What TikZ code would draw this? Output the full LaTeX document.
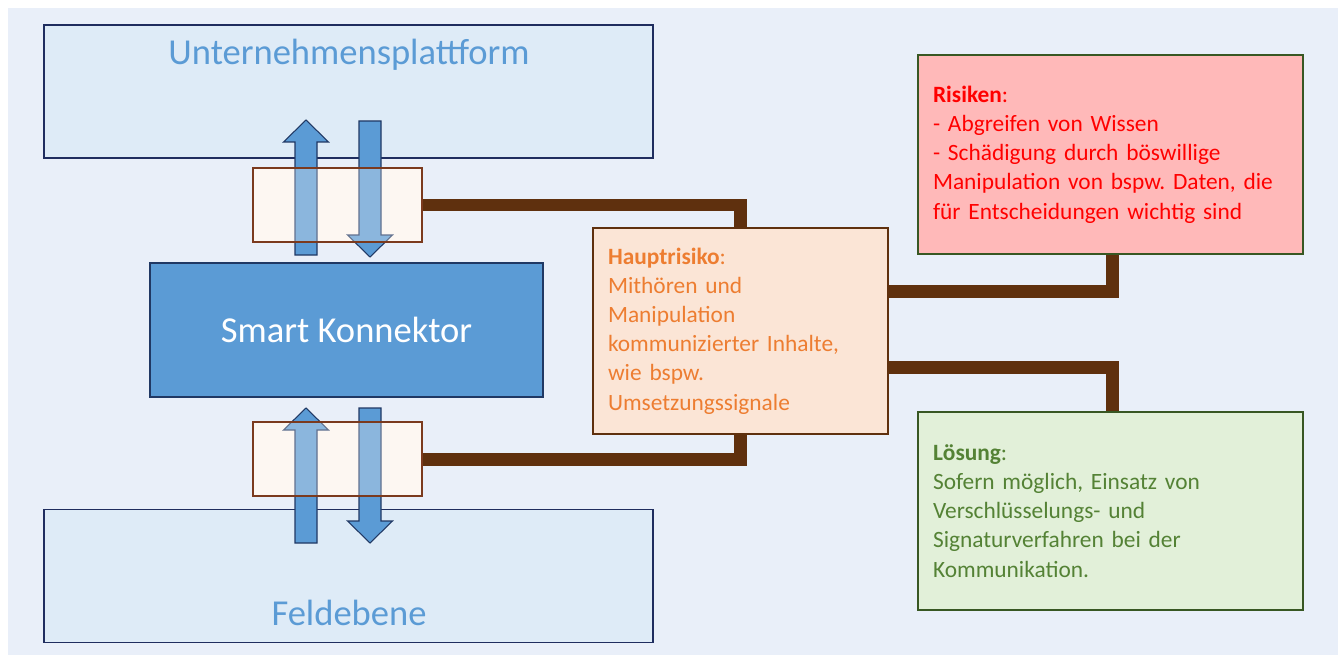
\documentclass[tikz,border=0pt]{standalone}
\usepackage{fontspec}
\setmainfont{Carlito}
\usepackage{tikz}
\usetikzlibrary{positioning}
\frenchspacing

\definecolor{hintergrund}{HTML}{E9EFF9}
\definecolor{ebenenfuell}{HTML}{DEEBF7}
\definecolor{dunkelblau}{HTML}{1F2D5F}
\definecolor{konnblau}{HTML}{5B9BD5}
\definecolor{pfeilrand}{HTML}{203864}
\definecolor{sahne}{HTML}{FDF7F2}
\definecolor{braun}{HTML}{5F300E}
\definecolor{rotbraun}{HTML}{7B3A1E}
\definecolor{pfirsich}{HTML}{FBE5D6}
\definecolor{orange}{HTML}{ED7D31}
\definecolor{rosa}{HTML}{FFB9B9}
\definecolor{signalrot}{HTML}{FF0000}
\definecolor{hellgruen}{HTML}{E2F0D9}
\definecolor{dunkelgruen}{HTML}{385723}
\definecolor{gruen}{HTML}{548235}

\begin{document}
\begin{tikzpicture}[x=0.02cm,y=-0.02cm,
		ebene/.style={draw=dunkelblau,line width=0.9pt,fill=ebenenfuell,minimum width=12.18cm,minimum height=2.66cm},
		titel/.style={font=\fontsize{20.8}{24}\selectfont,inner sep=0pt},
		stecker/.style={minimum width=3.38cm,minimum height=1.48cm,inner sep=0pt},
		pfeil/.style={draw=pfeilrand,line width=0.6pt,fill=konnblau,line join=miter},
		infobox/.style={line width=1pt,inner xsep=0.3cm,align=left,font=\fontsize{13.3}{16.6}\selectfont},
		leitung/.style={draw=braun,line width=0.26cm,line join=miter}]
	\useasboundingbox (0,0) rectangle (1338,655);
	\fill[hintergrund] (8,8) rectangle (1338,655);

	\node[ebene] (plattform) at (348.5,91.5) {};
	\node[titel,text=konnblau] (plattformtext) at (349,55) {Unternehmensplattform};
	\node[ebene] (feld) at (348.5,576) {};
	\node[titel,text=konnblau] (feldtext) at (349,613) {Feldebene};

	\node[draw=pfeilrand,line width=0.9pt,fill=konnblau,minimum width=7.86cm,minimum height=2.68cm,
		titel,text=white] (konnektor) at (346.5,330) {Smart Konnektor};

	\node[stecker,fill=sahne] (oben) at (337.5,205) {};
	\node[stecker,fill=sahne] (unten) at (337.5,459) {};

	% Pfeile nach oben und unten
	\foreach \x/\von/\bis/\s in {306/255/120/1, 370/121/257/-1, 306/543/408/1, 370/408/543/-1}
		\draw[pfeil] (\x-11,\von) -- (\x-11,\bis+22*\s) -- (\x-22.5,\bis+22*\s) -- (\x,\bis)
			-- (\x+22.5,\bis+22*\s) -- (\x+11,\bis+22*\s) -- (\x+11,\von) -- cycle;

	\node[stecker,draw=rotbraun,line width=0.6pt,fill=sahne,fill opacity=0.3] (obenglas) at (oben) {};
	\node[stecker,draw=rotbraun,line width=0.6pt,fill=sahne,fill opacity=0.3] (untenglas) at (unten) {};

	\node[infobox,draw=braun,fill=pfirsich,text=orange,text width=5.3cm,minimum height=4.12cm] (haupt) at (740.5,331)
		{\textbf{Hauptrisiko}:\\Mithören und\\Manipulation\\kommunizierter Inhalte,\\wie bspw.\\Umsetzungssignale};
	\node[infobox,draw=dunkelgruen,fill=rosa,text=signalrot,text width=7.1cm,minimum height=3.98cm] (risiken) at (1110.5,154.5)
		{\textbf{Risiken}:\\- Abgreifen von Wissen\\- Schädigung durch böswillige\\Manipulation von bspw. Daten, die\\für Entscheidungen wichtig sind};
	\node[infobox,draw=dunkelgruen,fill=hellgruen,text=gruen,text width=7.1cm,minimum height=3.96cm] (loesung) at (1110.5,511)
		{\textbf{Lösung}:\\Sofern möglich, Einsatz von\\Verschlüsselungs- und\\Signaturverfahren bei der\\Kommunikation.};

	\draw[leitung] (obenglas.east) -| (haupt.north);
	\draw[leitung] (untenglas.east) -| (haupt.south);
	\draw[leitung] ([yshift=0.79cm]haupt.east) -| ([xshift=0.03cm]risiken.south);
	\draw[leitung] ([yshift=-0.74cm]haupt.east) -| ([xshift=0.03cm]loesung.north);
\end{tikzpicture}
\end{document}
